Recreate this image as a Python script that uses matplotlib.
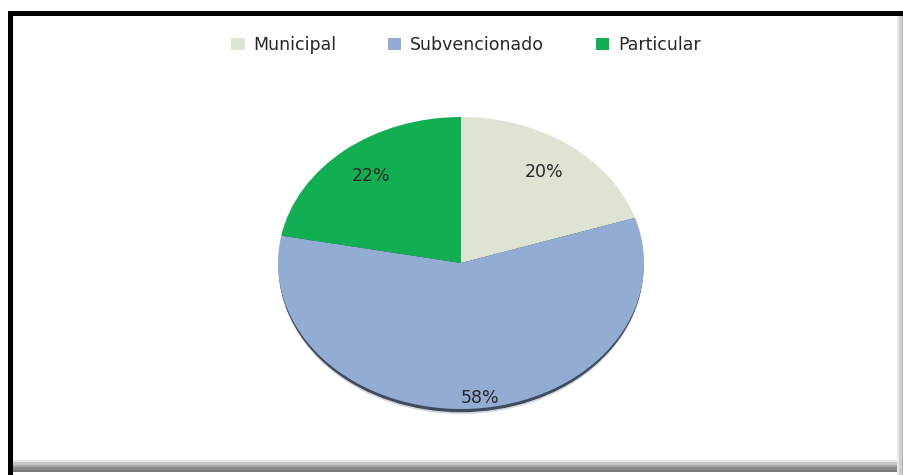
import matplotlib
matplotlib.use("Agg")
import matplotlib.pyplot as plt
from matplotlib.patches import Ellipse, Rectangle
import numpy as np

categories = ["Municipal", "Subvencionado", "Particular"]
values = [20, 58, 22]
colors = ["#DEE4D4", "#92ACD4", "#12AE52"]

W, H = 904, 475
fig = plt.figure(figsize=(W / 100, H / 100), dpi=100)
fig.patch.set_facecolor("white")

# frame (screenshot-like border)
fig.add_artist(Rectangle((8 / W, 0), 5 / W, 1 - 11 / H, transform=fig.transFigure, facecolor="black", edgecolor="none"))
fig.add_artist(Rectangle((8 / W, 1 - 16 / H), 1 - 8 / W, 5 / H, transform=fig.transFigure, facecolor="black", edgecolor="none"))
# bottom/right shadow bands
for i, c in enumerate(["#e6e6e6", "#c8c8c8", "#a8a8a8", "#8c8c8c", "#7a7a7a"]):
    fig.add_artist(Rectangle((13 / W, (13 - 2.5 * i) / H), 1, 2.5 / H, transform=fig.transFigure,
                             facecolor=c, edgecolor="none"))
for i, c in enumerate(["#e8e8e8", "#cfcfcf", "#b0b0b0"]):
    fig.add_artist(Rectangle((1 - (7 - 2.4 * i) / W, 0), 2.4 / W, 1 - 16 / H, transform=fig.transFigure,
                             facecolor=c, edgecolor="none"))

# pie axes: center (461,263), rx 183, ry 146
cx, cy, rx, ry = 461, 263, 183, 146
ax = fig.add_axes([(cx - rx) / W, (H - cy - ry) / H, 2 * rx / W, 2 * ry / H])
ax.set_facecolor("none")

# shadow under the pie
ax.add_patch(Ellipse((0.0, -0.035), 1.99, 2.0, facecolor="#d4d8de", edgecolor="none", zorder=0, clip_on=False))
ax.add_patch(Ellipse((0.0, -0.022), 1.995, 2.0, facecolor="#3e4a5e", edgecolor="none", zorder=0.5, clip_on=False))

wedges, texts, autotexts = ax.pie(values, colors=colors, startangle=90, counterclock=False,
                                  autopct="%d%%", pctdistance=0.77, radius=1.0,
                                  wedgeprops=dict(linewidth=0, zorder=1),
                                  textprops=dict(fontsize=12.5, color="#262626"))
ax.set_aspect("auto")
ax.set_xlim(-1, 1)
ax.set_ylim(-1, 1)
ax.axis("off")
# Excel-style placement of the big slice label
autotexts[1].set_position((0.104, -0.925))
for t in autotexts:
    t.set_ha("center")
    t.set_va("center")

fig.legend(wedges, categories, loc="center", bbox_to_anchor=(466 / W, 1 - 45 / H), ncol=3,
           frameon=False, fontsize=12.5, handlelength=0.75, handleheight=0.75, handletextpad=0.5,
           columnspacing=3.0, labelcolor="#262626")

fig.savefig("out.png", dpi=100)
